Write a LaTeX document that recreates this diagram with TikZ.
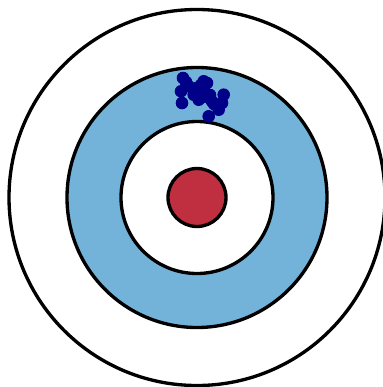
\documentclass[tikz,border=0pt]{standalone}
\usepackage{tikz}
\definecolor{rblue}{HTML}{74B3D9}
\definecolor{rred}{HTML}{C02F40}
\definecolor{rnavy}{HTML}{000088}
\tikzset{
 ring/.style={draw=black,line width=2.5pt},
 shot/.style={fill=rnavy,draw=none}
}
\begin{document}
\begin{tikzpicture}[x=0.75pt,y=-0.75pt]
 \useasboundingbox (0,0) rectangle (383,387);
 \coordinate (c) at (197,197.5);
 \draw[ring,fill=white] (c) circle (188);
 \draw[ring,fill=rblue] (c) circle (130);
 \draw[ring,fill=white] (c) circle (76);
 \draw[ring,fill=rred] (c) circle (29);
 % shots
 \foreach \px/\py in {183/78,181/91.3,182/103,203.7/81.3,207/83,197/88,205.3/93,
   198.7/99.7,212/101.3,223.7/94.7,222/103,218.7/109.7,208.7/116.3,188.7/86.3,193.7/94.7,
   201/85,210/95,214/104,203/97,186/82}
   \fill[shot] (\px,\py) circle (6.3);
\end{tikzpicture}
\end{document}
